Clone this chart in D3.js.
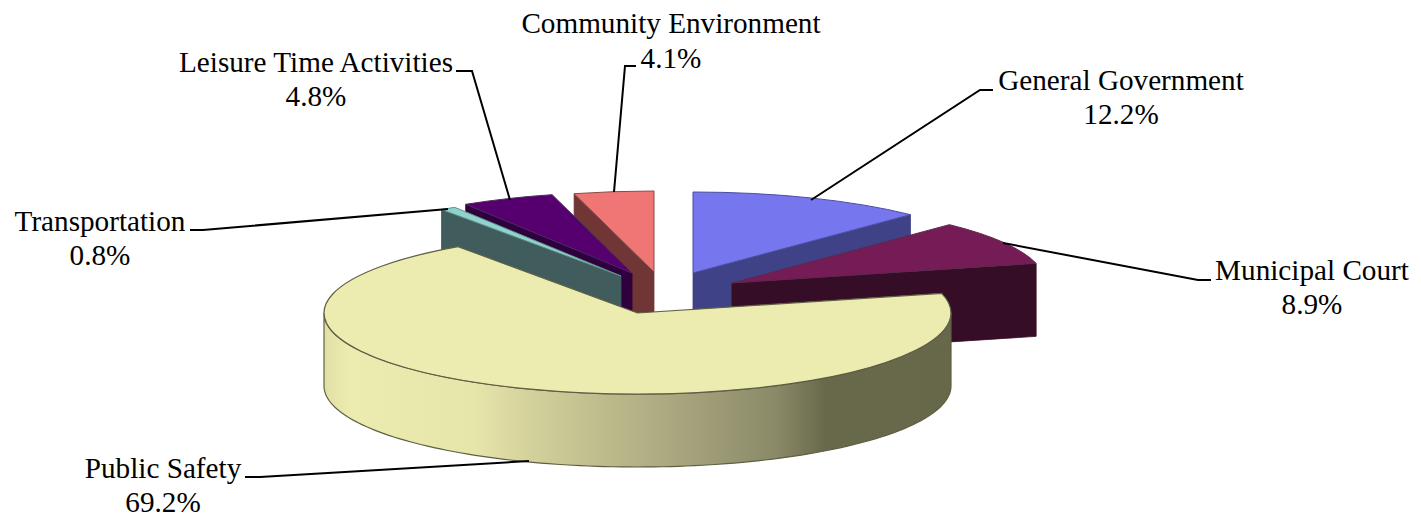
<!DOCTYPE html>
<html>
<head>
<meta charset="utf-8">
<style>
html,body{margin:0;padding:0;background:#fff}
svg{display:block}
text{font-family:"Liberation Serif",serif;font-size:29.2px;fill:#000;text-anchor:middle}
</style>
<script src="https://cdn.jsdelivr.net/npm/d3@7/dist/d3.min.js"></script>
</head>
<body>
<svg id="chart" width="1421" height="519"></svg>
<script>
// Data
const categories = ["General Government","Municipal Court","Public Safety","Transportation","Leisure Time Activities","Community Environment"];
const shares = [12.2, 8.9, 69.2, 0.8, 4.8, 4.1];

// Styles
const topColors  = ["#7676ee","#751a57","#ecebb0","#8fd3cc","#54006e","#f07575"];
const wallColors = ["#3f4288","#350a25","#ecebb0","#3f5c5c","#2d003c","#6f3535"];
const edgeColors = ["#4c4c9e","#5e2a4e","#5f5f45","#5f8f8a","#4a2a5e","#8a4a4a"];

// Layout: tilt-projected pie geometry
const rx = 313.5, ry = 81, depth = 73;
const apexes = [[693,273],[732,283],[637.5,313],[621,276],[632,273],[654,272]];
const paintOrder = [0,5,4,3,1,2];
const labelAnchors = [[1121,90,124],[1312,280,314],[163,478,512],[100,231,265],[316,72,106],[671,33,68]];
const leaders = [
  [[811,200],[980,90],[993,90]],
  [[1003,243],[1198,280],[1211,280]],
  [[529,461],[260,477],[245,477]],
  [[448,209],[203,230],[190,230]],
  [[510,200],[472,71],[456,71]],
  [[614,192],[625,66],[636,66]]
];

const svg = d3.select("#chart");
const defs = svg.append("defs");
const grad = defs.append("linearGradient").attr("id","wallGrad")
  .attr("gradientUnits","userSpaceOnUse")
  .attr("x1",324).attr("x2",951).attr("y1",0).attr("y2",0);
[[0,"#e0dfa4"],[0.04,"#ecebb0"],[0.24,"#e6e5aa"],[0.35,"#cfcd98"],[0.58,"#a5a37c"],[0.72,"#8b8a68"],[0.8,"#68694c"],[1,"#66674a"]]
  .forEach(([o,c]) => grad.append("stop").attr("offset",o).attr("stop-color",c));
defs.append("filter").attr("id","soft").attr("x","-5%").attr("y","-5%").attr("width","110%").attr("height","110%")
  .append("feGaussianBlur").attr("stdDeviation",0.45);

const pie = d3.pie().sort(null).value(d => d).startAngle(0).endAngle(2*Math.PI);
const arcs = pie(shares);
const arc = d3.arc().innerRadius(0).outerRadius(rx);
const line = d3.line();

// projection of polar angle (0 = up, clockwise) around an apex
const project = (apex, a) => [apex[0] + rx*Math.sin(a), apex[1] - ry*Math.cos(a)];
const wallQuad = (apex, a) => {
  const p = project(apex, a);
  return [apex, p, [p[0], p[1]+depth], [apex[0], apex[1]+depth]];
};

const g = svg.append("g").attr("filter","url(#soft)");
paintOrder.forEach(i => {
  const d = arcs[i], apex = apexes[i];
  const slice = g.append("g").attr("class","slice");
  if (i === 2) {
    // curved outer wall of the front-facing big slice
    const steps = d3.range(Math.PI/2, 3*Math.PI/2 + 0.001, Math.PI/120);
    const upper = steps.map(a => project(apex, a));
    const lower = upper.map(p => [p[0], p[1]+depth]).reverse();
    slice.append("path")
      .attr("d", line(upper.concat(lower)) + "Z")
      .attr("fill","url(#wallGrad)")
      .attr("stroke",edgeColors[i]).attr("stroke-width",1.2);
  } else {
    // radial cut wall visible on each exploded slice
    const a = (i === 0 || i === 1) ? d.endAngle : d.startAngle;
    slice.append("path")
      .attr("d", line(wallQuad(apex, a)) + "Z")
      .attr("fill",wallColors[i])
      .attr("stroke",wallColors[i]).attr("stroke-width",0.8);
  }
  slice.append("path")
    .attr("d", arc(d))
    .attr("transform",`translate(${apex[0]},${apex[1]}) scale(1,${ry/rx})`)
    .attr("fill",topColors[i])
    .attr("stroke",edgeColors[i]).attr("stroke-width",i === 2 ? 1.2 : 1)
    .attr("vector-effect","non-scaling-stroke");
});

// Leader lines
svg.append("g").selectAll("path").data(leaders).join("path")
  .attr("d", d => line(d))
  .attr("fill","none").attr("stroke","#000").attr("stroke-width",2);

// Labels
const pct = d3.format(".1f");
const labels = svg.append("g").selectAll("g").data(categories).join("g");
labels.append("text").attr("x",(d,i)=>labelAnchors[i][0]).attr("y",(d,i)=>labelAnchors[i][1]).text(d=>d);
labels.append("text").attr("x",(d,i)=>labelAnchors[i][0]).attr("y",(d,i)=>labelAnchors[i][2]).text((d,i)=>pct(shares[i])+"%");
</script>
</body>
</html>
